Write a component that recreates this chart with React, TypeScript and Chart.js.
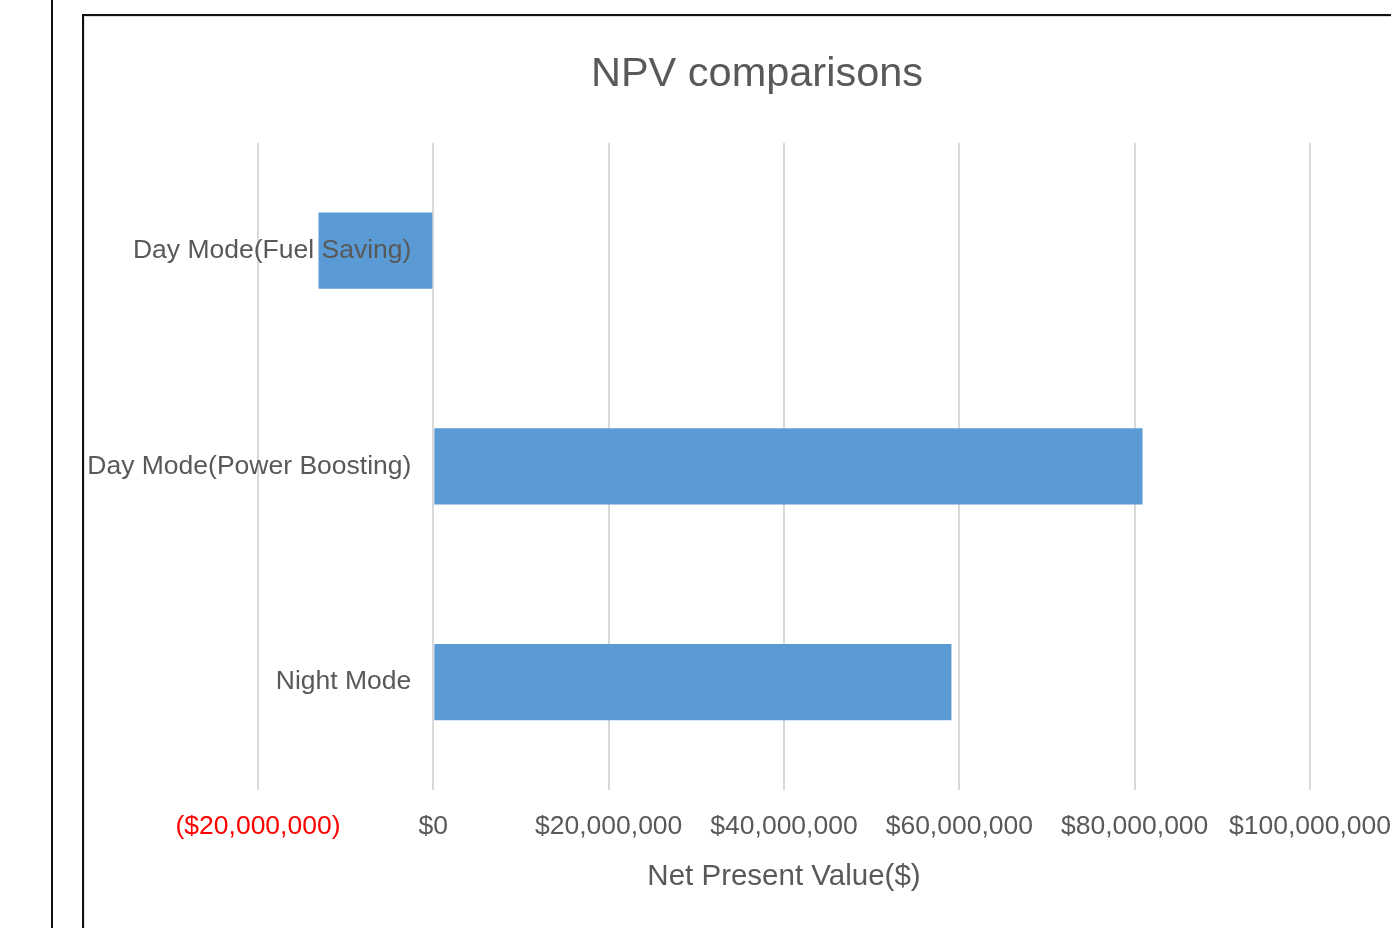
import React, { useEffect, useRef } from "react";
import { Chart, registerables } from "chart.js";

Chart.register(...registerables);

const categories: string[] = [
  "Day Mode(Fuel Saving)",
  "Day Mode(Power Boosting)",
  "Night Mode",
];
const npvValues: number[] = [-13100000, 80900000, 59100000];
const xMin = -20000000;
const xMax = 100000000;
const xStep = 20000000;

const FONT = "'Liberation Sans', Arial, sans-serif";
const TEXT = "#595959";

function formatMoney(v: number): string {
  const s = "$" + Math.abs(v).toLocaleString("en-US");
  return v < 0 ? "(" + s + ")" : s;
}

const categoryLabelPlugin = {
  id: "categoryLabels",
  afterDatasetsDraw(chart: any) {
    const { ctx, scales } = chart;
    const xs = scales.x;
    const ys = scales.y;
    const xRight = xs.getPixelForValue(0) - 22;
    ctx.save();
    ctx.font = `26.5px ${FONT}`;
    ctx.fillStyle = TEXT;
    ctx.textAlign = "right";
    ctx.textBaseline = "middle";
    categories.forEach((c, i) => {
      ctx.fillText(c, xRight, ys.getPixelForValue(i));
    });
    ctx.restore();
  },
};

export default function App() {
  const ref = useRef<HTMLCanvasElement>(null);

  useEffect(() => {
    if (!ref.current) return;
    const chart = new Chart(ref.current, {
      type: "bar",
      data: {
        labels: categories,
        datasets: [
          {
            data: npvValues,
            backgroundColor: "#5B9BD5",
            borderWidth: 0,
            categoryPercentage: 1,
            barPercentage: 0.353,
          },
        ],
      },
      plugins: [categoryLabelPlugin],
      options: {
        indexAxis: "y",
        animation: false,
        responsive: false,
        devicePixelRatio: 1,
        layout: { padding: { left: 0, right: 0, top: 0, bottom: 36 } },
        plugins: {
          legend: { display: false },
          tooltip: { enabled: false },
          title: {
            display: true,
            text: "NPV comparisons",
            color: TEXT,
            font: { family: FONT, size: 41.5, weight: "normal" },
            padding: { top: 34, bottom: 43 },
          },
        },
        scales: {
          x: {
            type: "linear",
            min: xMin,
            max: xMax,
            position: "bottom",
            grid: {
              color: "#d9d9d9",
              lineWidth: 2,
              drawTicks: false,
            },
            border: { display: false },
            ticks: {
              stepSize: xStep,
              padding: 23,
              maxRotation: 0,
              autoSkip: false,
              font: { family: FONT, size: 26.5, lineHeight: 1 },
              color: (c: any) => (c.tick && c.tick.value < 0 ? "#FF0000" : TEXT),
              callback: (v: any) => formatMoney(Number(v)),
            },
            title: {
              display: true,
              text: "Net Present Value($)",
              color: TEXT,
              font: { family: FONT, size: 29.5, lineHeight: 1 },
              padding: { top: 0, bottom: 0 },
            },
          },
          y: {
            type: "category",
            position: "left",
            grid: { display: false },
            border: { display: false },
            ticks: { display: false },
            afterFit: (s: any) => {
              s.width = 174;
            },
          },
          y2: {
            type: "linear",
            position: "right",
            grid: { display: false },
            border: { display: false },
            ticks: { display: false },
            afterFit: (s: any) => {
              s.width = 120;
            },
          },
        },
      } as any,
    });
    return () => chart.destroy();
  }, []);

  return (
    <div
      style={{
        position: "absolute",
        left: 0,
        top: 0,
        width: 1391,
        height: 928,
        overflow: "hidden",
        background: "#ffffff",
      }}
    >
      <div
        style={{
          position: "absolute",
          left: 51,
          top: 0,
          width: 2,
          height: 928,
          background: "#111111",
        }}
      />
      <div
        style={{
          position: "absolute",
          left: 82,
          top: 14,
          width: 1400,
          height: 1000,
          boxSizing: "border-box",
          borderTop: "2px solid #111111",
          borderLeft: "2px solid #111111",
        }}
      />
      <div
        style={{
          position: "absolute",
          left: 84,
          top: 16,
          width: 1400,
          height: 1000,
          boxSizing: "border-box",
          borderTop: "1px solid #dddddd",
          borderLeft: "1px solid #dddddd",
        }}
      />
      <canvas
        ref={ref}
        width={1346}
        height={912}
        style={{ position: "absolute", left: 84, top: 16, width: 1346, height: 912 }}
      />
    </div>
  );
}
